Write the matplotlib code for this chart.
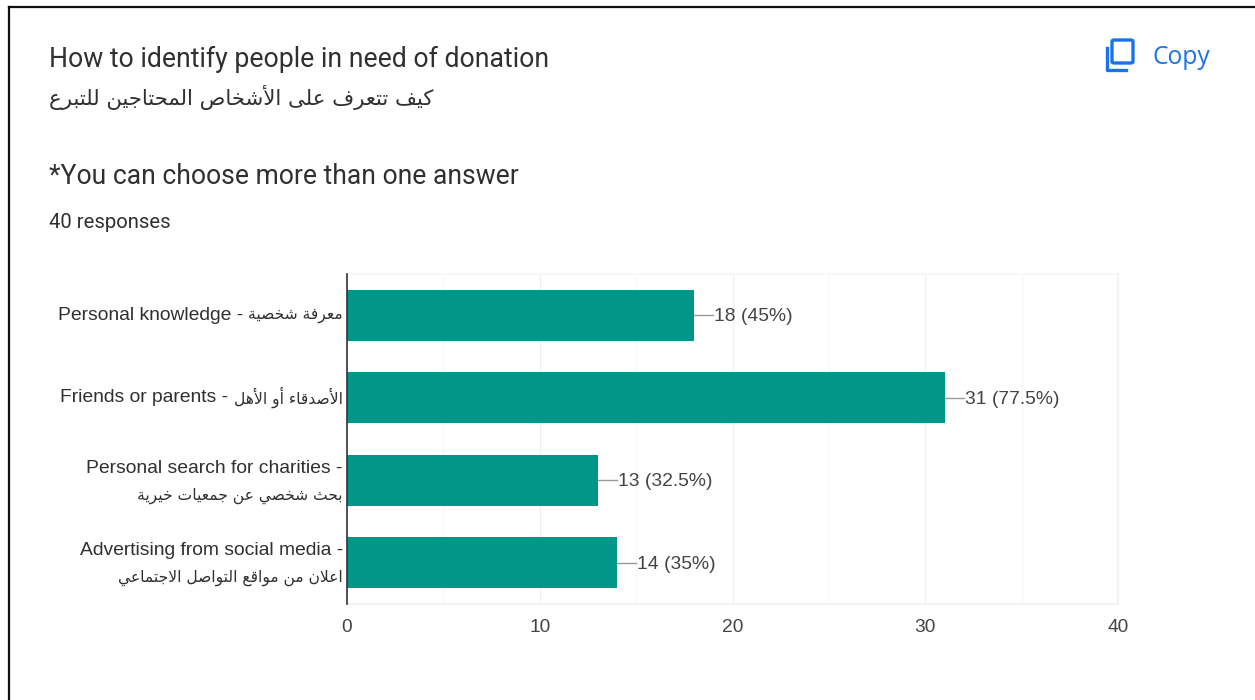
# chart.py

import matplotlib
matplotlib.use("Agg")
import matplotlib.pyplot as plt
from matplotlib.patches import FancyBboxPatch

# arabic letters -> first presentation form code, number of forms (isol, final, init, medial)
ARABIC_FORMS = {
    "ء": (0xFE80, 1), "أ": (0xFE83, 2), "ا": (0xFE8D, 2), "ب": (0xFE8F, 4), "ة": (0xFE93, 2),
    "ت": (0xFE95, 4), "ث": (0xFE99, 4), "ج": (0xFE9D, 4), "ح": (0xFEA1, 4), "خ": (0xFEA5, 4),
    "د": (0xFEA9, 2), "ذ": (0xFEAB, 2), "ر": (0xFEAD, 2), "ز": (0xFEAF, 2), "س": (0xFEB1, 4),
    "ش": (0xFEB5, 4), "ص": (0xFEB9, 4), "ض": (0xFEBD, 4), "ط": (0xFEC1, 4), "ظ": (0xFEC5, 4),
    "ع": (0xFEC9, 4), "غ": (0xFECD, 4), "ف": (0xFED1, 4), "ق": (0xFED5, 4), "ك": (0xFED9, 4),
    "ل": (0xFEDD, 4), "م": (0xFEE1, 4), "ن": (0xFEE5, 4), "ه": (0xFEE9, 4), "و": (0xFEED, 2),
    "ى": (0xFEEF, 2), "ي": (0xFEF1, 4),
}
LAM_ALEF = {"ا": 0xFEFB, "أ": 0xFEF7}


def shape_arabic(text):
    # matplotlib does no arabic shaping, so pick the joined forms by hand
    words = []
    for word in text.split(" "):
        glyphs = []
        joins_prev = False
        i = 0
        while i < len(word):
            ch = word[i]
            nxt = word[i + 1] if i + 1 < len(word) else None
            if ch == "ل" and nxt in LAM_ALEF:
                glyphs.append(chr(LAM_ALEF[nxt] + (1 if joins_prev else 0)))
                joins_prev = False
                i += 2
                continue
            start, count = ARABIC_FORMS[ch]
            joins_next = count == 4 and nxt is not None and ARABIC_FORMS[nxt][1] > 1
            if count == 1:
                glyphs.append(chr(start))
            elif joins_prev and joins_next:
                glyphs.append(chr(start + 3))
            elif joins_next:
                glyphs.append(chr(start + 2))
            elif joins_prev:
                glyphs.append(chr(start + 1))
            else:
                glyphs.append(chr(start))
            joins_prev = joins_next
            i += 1
        words.append("".join(reversed(glyphs)))
    return " ".join(reversed(words))


categories_en = ["Personal knowledge - ", "Friends or parents - ",
                 "Personal search for charities -", "Advertising from social media -"]
categories_ar = ["معرفة شخصية", "الأصدقاء أو الأهل", "بحث شخصي عن جمعيات خيرية",
                 "اعلان من مواقع التواصل الاجتماعي"]
counts = [18, 31, 13, 14]
percents = ["45%", "77.5%", "32.5%", "35%"]
x_ticks = [0, 10, 20, 30, 40]
minor_ticks = [5, 15, 25, 35]

W, H = 1255, 700
plt.rcParams["font.family"] = ["Roboto", "DejaVu Sans"]
TEXT = "#303030"
LABEL_FONT = "Liberation Sans"

fig = plt.figure(figsize=(W / 100, H / 100), dpi=100, facecolor="white")


def fx(px):
    return px / W


def fy(px):
    return 1 - px / H


ax = fig.add_axes([fx(347), fy(604), fx(1118) - fx(347), (604 - 274) / H])
y_pos = range(len(counts))
ax.barh(y_pos, counts, height=0.62, color="#009688", zorder=3)
ax.set_xlim(0, 40)
ax.set_ylim(3.5, -0.5)
ax.set_xticks(x_ticks)
ax.set_xticks(minor_ticks, minor=True)
ax.set_yticks([])
ax.grid(axis="x", which="major", color="#f0f0f0", lw=1, zorder=0)
ax.grid(axis="x", which="minor", color="#f7f7f7", lw=1, zorder=0)
ax.tick_params(axis="x", which="both", length=0, pad=10.5, labelsize=13.8, labelcolor="#444444")
for lab in ax.get_xticklabels():
    lab.set_family(LABEL_FONT)
for side in ["top", "right", "bottom"]:
    ax.spines[side].set_visible(False)
ax.spines["left"].set_color("#333333")
ax.spines["left"].set_linewidth(1.2)
ax.spines["left"].set_zorder(5)
# faint edges of the plot area
ax.axhline(-0.5, color="#f8f8f8", lw=1.5, zorder=0, clip_on=False)
ax.axhline(3.5, color="#f3f3f3", lw=1.5, zorder=0, clip_on=False)
ax.axvline(40, color="#f3f3f3", lw=1.5, zorder=0, clip_on=False)

# value labels with the little leader line
for i, (c, p) in enumerate(zip(counts, percents)):
    ax.plot([c, c + 1.0], [i, i], color="#999999", lw=1, zorder=4)
    ax.annotate(f"{c} ({p})", (c + 1.05, i), xytext=(0, -1), textcoords="offset points",
                va="center", ha="left", fontsize=13.9, color="#444444", family=LABEL_FONT)

# category labels, right aligned against the axis
for i in range(len(counts)):
    ar = shape_arabic(categories_ar[i])
    if i < 2:
        t = ax.annotate(ar, (0, i), xytext=(-3, 0), textcoords="offset points", ha="right",
                        va="center", fontsize=11.2, color=TEXT, family="DejaVu Sans")
        ax.annotate(categories_en[i], xy=(0, 0.5), xycoords=t, ha="right", va="center",
                    fontsize=13.85, color=TEXT, family=LABEL_FONT)
    else:
        ax.annotate(categories_en[i], (0, i), xytext=(-3, 8.5), textcoords="offset points", ha="right",
                    va="center", fontsize=13.85, color=TEXT, family=LABEL_FONT)
        ax.annotate(ar, (0, i), xytext=(-3, -11.2), textcoords="offset points", ha="right",
                    va="center", fontsize=11.2, color=TEXT, family="DejaVu Sans")

# card header
fig.text(fx(49), fy(59), "How to identify people in need of donation", fontsize=19.2, color=TEXT, va="center")
fig.text(fx(49), fy(97), shape_arabic("كيف تتعرف على الأشخاص المحتاجين للتبرع"), fontsize=15.3,
         color=TEXT, va="center", family="DejaVu Sans")
fig.text(fx(49), fy(176), "*You can choose more than one answer", fontsize=19.1, color=TEXT, va="center")
fig.text(fx(49), fy(222), "40 responses", fontsize=14.6, color=TEXT, va="center")

# copy button
BLUE = "#1a73e8"
fig.text(fx(1153), fy(58), "Copy", fontsize=17.7, color=BLUE, va="center", family="Open Sans")
fig.add_artist(FancyBboxPatch((fx(1112), fy(63)), 21 / W, 23 / H, boxstyle="round,pad=0,rounding_size=0.002",
                              transform=fig.transFigure, fill=False, ec=BLUE, lw=2.4))
fig.add_artist(plt.Line2D([fx(1107), fx(1107), fx(1126)], [fy(48), fy(70), fy(70)], color=BLUE, lw=2.4))

# black screenshot border
fig.add_artist(plt.Line2D([fx(8.5), fx(8.5)], [0, fy(6.5)], color="#111111", lw=1.6))
fig.add_artist(plt.Line2D([fx(8.5), 1], [fy(6.5), fy(6.5)], color="#111111", lw=1.6))

fig.savefig("out.png", dpi=100)
